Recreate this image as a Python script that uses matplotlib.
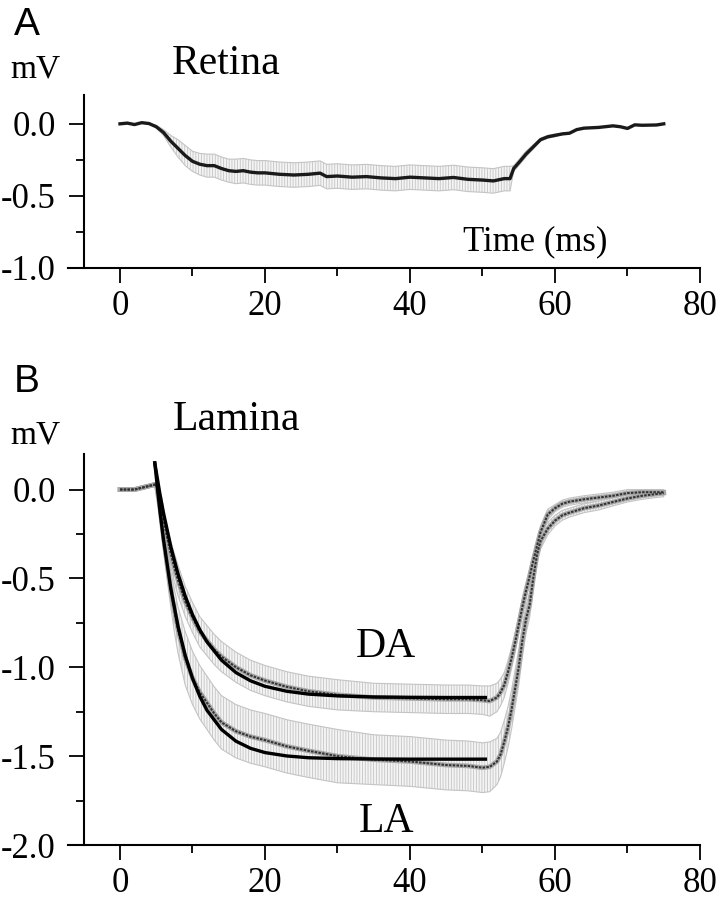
import matplotlib
matplotlib.use("Agg")
import matplotlib.pyplot as plt
from matplotlib.ticker import MultipleLocator

# ---------------- data ----------------
# Panel A: Retina
t_retina = [0, 1, 2, 3, 4, 5, 6, 7, 8, 9, 10, 11, 12, 13, 14, 15, 16, 17, 18, 19,
            20, 22, 24, 26, 27, 27.6, 28.5, 30, 32, 34, 36, 38, 40, 42, 44, 46, 48,
            50, 51.5, 53, 53.8, 54.3, 55, 56, 57, 58, 59, 60, 61, 62, 63, 64, 66,
            68, 69, 70, 71, 72, 74, 75]
v_retina = [0.0, 0.005, -0.005, 0.008, 0.002, -0.02, -0.06, -0.12, -0.17, -0.22,
            -0.26, -0.28, -0.29, -0.29, -0.31, -0.325, -0.33, -0.325, -0.335, -0.34,
            -0.34, -0.35, -0.355, -0.35, -0.345, -0.342, -0.366, -0.362, -0.37, -0.366,
            -0.375, -0.38, -0.37, -0.375, -0.38, -0.372, -0.385, -0.39, -0.396, -0.38,
            -0.38, -0.31, -0.27, -0.21, -0.16, -0.11, -0.09, -0.08, -0.07, -0.065,
            -0.04, -0.03, -0.025, -0.014, -0.02, -0.032, -0.007, -0.01, -0.008, 0.0]
e_retina = [0.0, 0.0, 0.0, 0.0, 0.0, 0.01, 0.02, 0.04, 0.06, 0.07,
            0.07, 0.075, 0.08, 0.08, 0.08, 0.08, 0.085, 0.085, 0.085, 0.085,
            0.085, 0.085, 0.085, 0.085, 0.085, 0.085, 0.085, 0.085, 0.085, 0.085,
            0.085, 0.085, 0.085, 0.085, 0.085, 0.085, 0.085, 0.085, 0.085, 0.085,
            0.085, 0.02, 0.02, 0.02, 0.015, 0.01, 0.01, 0.01, 0.005, 0.0,
            0.0, 0.0, 0.0, 0.0, 0.0, 0.0, 0.0, 0.0, 0.0, 0.0]

# Panel B: Lamina (mean traces, SE, and exponential fits)
t_lamina = [0, 2, 4, 5, 5.5, 6, 6.5, 7, 7.5, 8, 9, 10, 11, 12, 13, 14, 16, 18, 20, 23,
            26, 30, 35, 40, 45, 48, 50, 51, 52, 52.5, 53, 53.5, 54, 54.5, 55, 55.5, 56,
            56.5, 57, 57.5, 58, 59, 60, 61, 62, 64, 66, 68, 70, 72, 75]
v_da = [0.0, 0.0, 0.02, 0.03, -0.05, -0.17, -0.27, -0.36, -0.44, -0.51, -0.63, -0.72,
        -0.80, -0.85, -0.90, -0.94, -1.0, -1.045, -1.075, -1.11, -1.135, -1.155, -1.17,
        -1.175, -1.18, -1.18, -1.185, -1.19, -1.17, -1.14, -1.10, -1.03, -0.95, -0.86,
        -0.76, -0.66, -0.57, -0.49, -0.40, -0.32, -0.24, -0.14, -0.105, -0.08, -0.068,
        -0.055, -0.045, -0.035, -0.02, -0.015, -0.015]
e_da = [0.01, 0.01, 0.01, 0.01, 0.03, 0.05, 0.06, 0.07, 0.08, 0.085, 0.085, 0.085,
        0.085, 0.085, 0.085, 0.085, 0.085, 0.085, 0.085, 0.085, 0.085, 0.085, 0.08,
        0.08, 0.08, 0.08, 0.08, 0.085, 0.08, 0.075, 0.07, 0.065, 0.06, 0.055, 0.05,
        0.05, 0.045, 0.045, 0.04, 0.04, 0.035, 0.03, 0.02, 0.02, 0.02, 0.02, 0.02,
        0.02, 0.02, 0.015, 0.015]
v_la = [0.0, 0.0, 0.02, 0.03, -0.10, -0.27, -0.42, -0.56, -0.68, -0.79, -0.95, -1.06,
        -1.14, -1.20, -1.26, -1.31, -1.36, -1.39, -1.41, -1.445, -1.47, -1.50, -1.52,
        -1.53, -1.55, -1.555, -1.565, -1.56, -1.53, -1.49, -1.42, -1.34, -1.24, -1.12,
        -1.0, -0.85, -0.73, -0.65, -0.50, -0.37, -0.29, -0.22, -0.175, -0.145, -0.13,
        -0.105, -0.09, -0.07, -0.05, -0.035, -0.02]
e_la = [0.01, 0.01, 0.01, 0.01, 0.04, 0.07, 0.085, 0.1, 0.12, 0.13, 0.15, 0.15,
        0.15, 0.15, 0.15, 0.15, 0.15, 0.15, 0.15, 0.15, 0.15, 0.15, 0.14, 0.14,
        0.14, 0.14, 0.14, 0.14, 0.13, 0.125, 0.12, 0.115, 0.11, 0.105, 0.1, 0.09,
        0.08, 0.07, 0.06, 0.05, 0.045, 0.035, 0.03, 0.028, 0.025, 0.025, 0.025,
        0.022, 0.02, 0.02, 0.02]

t_fit = [4.8, 5.5, 6, 7, 8, 9, 10, 11, 12, 14, 16, 18, 20, 23, 26, 30, 35, 40, 45, 50.4]
fit_da = [0.15, -0.023, -0.131, -0.320, -0.474, -0.600, -0.704, -0.788, -0.857, -0.960,
          -1.030, -1.076, -1.107, -1.135, -1.151, -1.161, -1.167, -1.169, -1.17, -1.17]
fit_la = [0.15, -0.118, -0.282, -0.555, -0.768, -0.934, -1.062, -1.163, -1.242, -1.350,
          -1.416, -1.456, -1.480, -1.499, -1.509, -1.514, -1.516, -1.517, -1.517, -1.517]

x_ticks = [0, 20, 40, 60, 80]
y_ticks_a = [0.0, -0.5, -1.0]
y_ticks_b = [0.0, -0.5, -1.0, -1.5, -2.0]

# ---------------- styling ----------------
SERIF = ["Liberation Serif", "DejaVu Serif"]
SANS = ["Liberation Sans", "DejaVu Sans"]
plt.rcParams["font.family"] = SERIF
plt.rcParams["hatch.linewidth"] = 0.6
plt.rcParams["hatch.color"] = "#bdbdbd"

W, H = 717, 900
fig = plt.figure(figsize=(W / 100, H / 100), dpi=100)


def px_axes(left, top, right, bottom):
    return fig.add_axes([left / W, 1 - bottom / H, (right - left) / W, (bottom - top) / H])


def style_axes(ax, ylim, yticks, yminor):
    ax.set_xlim(-7.17, 80)
    ax.set_ylim(*ylim)
    for s in ("top", "right"):
        ax.spines[s].set_visible(False)
    ax.spines["left"].set_position(("data", -5))
    for s in ("left", "bottom"):
        ax.spines[s].set_linewidth(1.5)
    ax.set_xticks(x_ticks)
    ax.set_xticklabels([str(v) for v in x_ticks])
    ax.xaxis.set_minor_locator(MultipleLocator(10))
    ax.set_yticks(yticks)
    ax.set_yticklabels([f"{v:.1f}" for v in yticks])
    ax.yaxis.set_minor_locator(MultipleLocator(yminor))
    ax.tick_params(which="major", direction="out", length=11, width=1.3, labelsize=25)
    ax.tick_params(which="minor", direction="out", length=5.5, width=1.3)
    ax.tick_params(axis="x", which="major", pad=5)
    ax.tick_params(axis="y", which="major", pad=9)


def band(ax, t, v, e):
    lo = [a - b for a, b in zip(v, e)]
    hi = [a + b for a, b in zip(v, e)]
    ax.fill_between(t, lo, hi, facecolor="#f4f4f4", edgecolor="#c4c4c4",
                    hatch="||||||", linewidth=0.8, zorder=1)


# ---------------- Panel A ----------------
axA = px_axes(68, 95, 700, 268)
style_axes(axA, (-1.0, 0.2), y_ticks_a, 0.25)
band(axA, t_retina, v_retina, e_retina)
axA.plot(t_retina, v_retina, color="#1a1a1a", lw=2.4, zorder=3)

fig.text(14 / W, 1 - 35 / H, "A", family=SANS, fontsize=28, ha="left", va="baseline")
fig.text(10 / W, 1 - 78 / H, "mV", fontsize=24, ha="left", va="baseline")
fig.text(172 / W, 1 - 74 / H, "Retina", fontsize=30, ha="left", va="baseline")
fig.text(607 / W, 1 - 250 / H, "Time (ms)", fontsize=25, ha="right", va="baseline")

# ---------------- Panel B ----------------
axB = px_axes(68, 454, 700, 845)
style_axes(axB, (-2.0, 0.2), y_ticks_b, 0.25)
band(axB, t_lamina, v_da, e_da)
band(axB, t_lamina, v_la, e_la)
for v in (v_da, v_la):
    axB.plot(t_lamina, v, color="#a8a8a8", lw=3.4, zorder=3)
    axB.plot(t_lamina, v, color="#333333", lw=1.5, ls=(0, (1.2, 0.6)), zorder=4)
axB.plot(t_fit, fit_da, color="black", lw=2.4, zorder=5)
axB.plot(t_fit, fit_la, color="black", lw=2.4, zorder=5)

fig.text(14 / W, 1 - 392 / H, "B", family=SANS, fontsize=28, ha="left", va="baseline")
fig.text(10 / W, 1 - 443 / H, "mV", fontsize=24, ha="left", va="baseline")
fig.text(173 / W, 1 - 430 / H, "Lamina", fontsize=30, ha="left", va="baseline")
fig.text(386 / W, 1 - 657 / H, "DA", fontsize=30, ha="center", va="baseline")
fig.text(386 / W, 1 - 832 / H, "LA", fontsize=30, ha="center", va="baseline")

fig.savefig("out.png", dpi=100)
